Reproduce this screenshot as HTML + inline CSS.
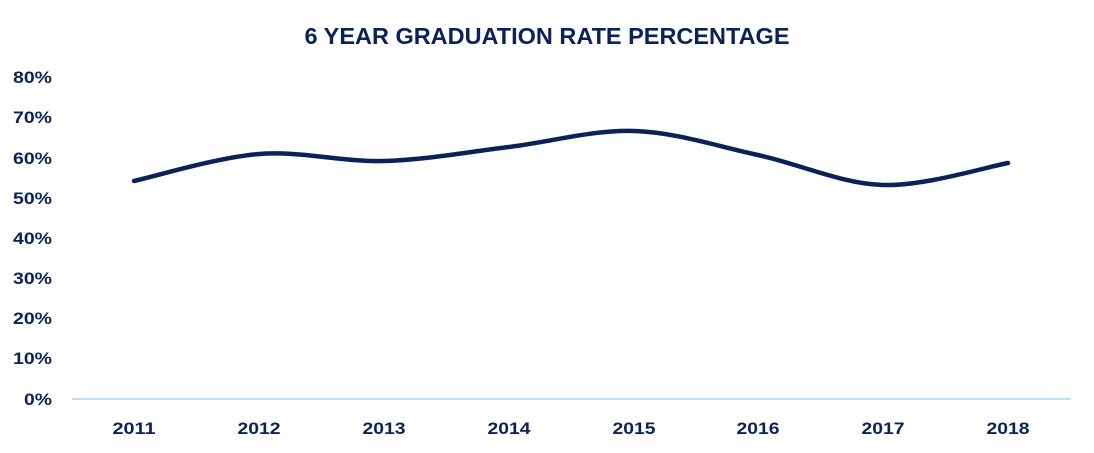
<!DOCTYPE html>
<html><head><meta charset="utf-8"><style>
html,body{margin:0;padding:0;background:#fff;}
svg{display:block;}
text{font-family:"Liberation Sans",sans-serif;font-weight:bold;fill:#0b2158;}
</style></head><body>
<svg width="1094" height="453" viewBox="0 0 1094 453" xmlns="http://www.w3.org/2000/svg">
<text x="547" y="44" text-anchor="middle" font-size="23" textLength="485" lengthAdjust="spacingAndGlyphs">6 YEAR GRADUATION RATE PERCENTAGE</text>
<g font-size="17" text-anchor="end">
<text x="52" y="83" textLength="39" lengthAdjust="spacingAndGlyphs">80%</text>
<text x="52" y="123" textLength="39" lengthAdjust="spacingAndGlyphs">70%</text>
<text x="52" y="164" textLength="39" lengthAdjust="spacingAndGlyphs">60%</text>
<text x="52" y="204" textLength="39" lengthAdjust="spacingAndGlyphs">50%</text>
<text x="52" y="244" textLength="39" lengthAdjust="spacingAndGlyphs">40%</text>
<text x="52" y="284" textLength="39" lengthAdjust="spacingAndGlyphs">30%</text>
<text x="52" y="324" textLength="39" lengthAdjust="spacingAndGlyphs">20%</text>
<text x="52" y="364" textLength="39" lengthAdjust="spacingAndGlyphs">10%</text>
<text x="52" y="405" textLength="28" lengthAdjust="spacingAndGlyphs">0%</text>
</g>
<line x1="72" y1="399" x2="1071" y2="399" stroke="#bfe0f5" stroke-width="2"/>
<g font-size="17" text-anchor="middle">
<text x="134" y="434" textLength="43" lengthAdjust="spacingAndGlyphs">2011</text>
<text x="259" y="434" textLength="43" lengthAdjust="spacingAndGlyphs">2012</text>
<text x="384" y="434" textLength="43" lengthAdjust="spacingAndGlyphs">2013</text>
<text x="509" y="434" textLength="43" lengthAdjust="spacingAndGlyphs">2014</text>
<text x="634" y="434" textLength="43" lengthAdjust="spacingAndGlyphs">2015</text>
<text x="758" y="434" textLength="43" lengthAdjust="spacingAndGlyphs">2016</text>
<text x="883" y="434" textLength="43" lengthAdjust="spacingAndGlyphs">2017</text>
<text x="1008" y="434" textLength="43" lengthAdjust="spacingAndGlyphs">2018</text>
</g>
<path d="M134,181 C154.8,176.5 217.3,157.3 259,154 C300.7,150.7 342.3,162.2 384,161 C425.7,159.8 467.3,152 509,147 C550.7,142 592.5,129.7 634,131 C675.5,132.3 716.5,146 758,155 C799.5,164 841.3,183.7 883,185 C924.7,186.3 987.2,166.7 1008,163" fill="none" stroke="#0b2158" stroke-width="4.5" stroke-linecap="round"/>
</svg>
</body></html>
